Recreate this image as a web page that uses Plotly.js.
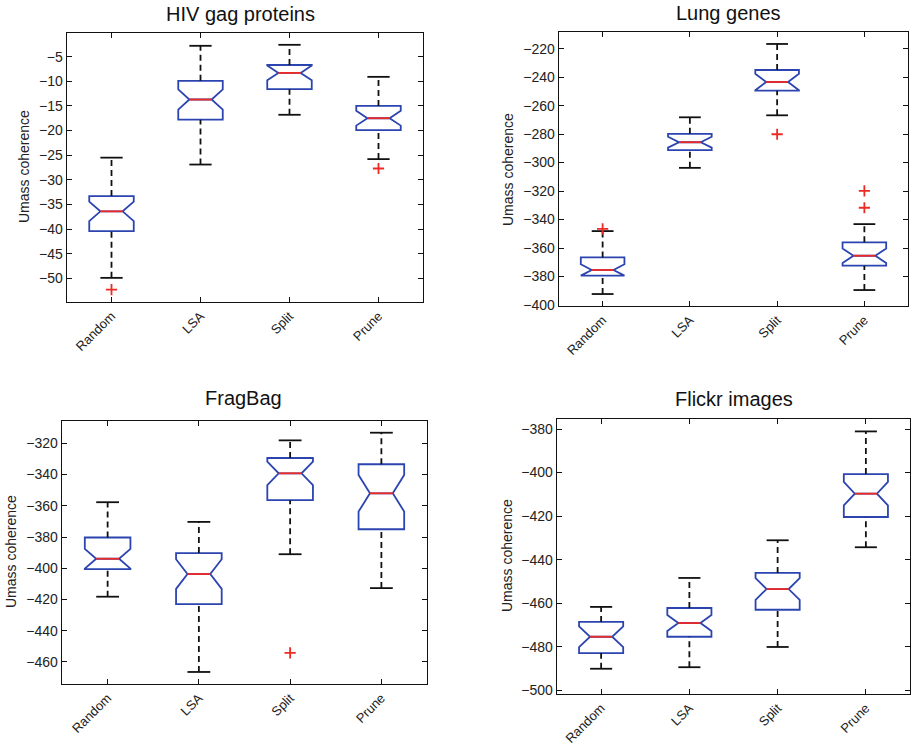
<!DOCTYPE html>
<html>
<head>
<meta charset="utf-8">
<script src="https://cdn.plot.ly/plotly-3.0.1.min.js"></script>
<style>html,body{margin:0;padding:0;background:#fff;}#chart{width:912px;height:746px;}</style>
</head>
<body>
<div id="chart"></div>
<script>
// ---------- data ----------
const categories = ['Random', 'LSA', 'Split', 'Prune'];
const panelTitles = ['HIV gag proteins', 'Lung genes', 'FragBag', 'Flickr images'];
const yAxisLabel = 'Umass coherence';

// HIV gag proteins
const hivQ1     = [-40.4, -17.8, -11.6, -19.9];
const hivMedian = [-36.4, -13.7,  -8.3, -17.5];
const hivQ3     = [-33.3,  -9.9,  -6.7, -15.0];
const hivLower  = [-49.9, -26.9, -16.8, -25.8];
const hivUpper  = [-25.5,  -2.8,  -2.6,  -9.1];
const hivNotch  = [1.97, 2.07, 1.5, 1.5];
const hivOutCat = ['Random', 'Prune'];
const hivOutVal = [-52.3, -27.7];

// Lung genes
const lungQ1     = [-379.4, -291.3, -249.5, -372.4];
const lungMedian = [-375.4, -285.7, -243.4, -365.4];
const lungQ3     = [-366.6, -279.8, -235.0, -356.0];
const lungLower  = [-392.3, -303.7, -266.8, -389.5];
const lungUpper  = [-348.1, -268.2, -216.7, -343.2];
const lungNotch  = [4.0, 3.8, 5.8, 5.1];
const lungOutCat = ['Random', 'Split', 'Prune', 'Prune'];
const lungOutVal = [-346.5, -280.1, -319.8, -331.7];

// FragBag
const fragQ1     = [-400.5, -422.9, -356.4, -375.0];
const fragMedian = [-393.9, -403.7, -339.2, -352.0];
const fragQ3     = [-380.3, -390.3, -329.4, -333.4];
const fragLower  = [-418.2, -466.4, -391.0, -412.7];
const fragUpper  = [-357.7, -370.3, -318.1, -313.2];
const fragNotch  = [6.3, 9.5, 7.5, 11.7];
const fragOutCat = ['Split'];
const fragOutVal = [-454.2];

// Flickr images
const flickrQ1     = [-482.9, -475.4, -463.0, -420.4];
const flickrMedian = [-475.4, -469.1, -453.5, -409.7];
const flickrQ3     = [-468.6, -462.2, -446.1, -400.7];
const flickrLower  = [-490.1, -489.4, -480.1, -434.3];
const flickrUpper  = [-461.7, -448.4, -431.1, -381.1];
const flickrNotch  = [4.8, 3.7, 5.0, 5.4];
const flickrOutCat = [];
const flickrOutVal = [];

// ---------- styling / layout ----------
const BLUE = '#2b44b0';
const RED = '#ee2a24';
const BLACK = '#111';
const FONT = 'Liberation Sans, Arial, sans-serif';
const W = 912, H = 746;

const panels = [
  {q1: hivQ1, med: hivMedian, q3: hivQ3, lo: hivLower, hi: hivUpper, notch: hivNotch, oc: hivOutCat, ov: hivOutVal,
   box: [67, 423, 33, 302], yr: [-54.8, -0.2], dtick: 5, title: [240, 14], ytitle: [24, 167]},
  {q1: lungQ1, med: lungMedian, q3: lungQ3, lo: lungLower, hi: lungUpper, notch: lungNotch, oc: lungOutCat, ov: lungOutVal,
   box: [559, 908, 32, 306], yr: [-400.7, -208.3], dtick: 20, title: [728, 13], ytitle: [508, 169]},
  {q1: fragQ1, med: fragMedian, q3: fragQ3, lo: fragLower, hi: fragUpper, notch: fragNotch, oc: fragOutCat, ov: fragOutVal,
   box: [62, 427, 421, 684], yr: [-474.1, -305.7], dtick: 20, title: [243, 398], ytitle: [11, 552]},
  {q1: flickrQ1, med: flickrMedian, q3: flickrQ3, lo: flickrLower, hi: flickrUpper, notch: flickrNotch, oc: flickrOutCat, ov: flickrOutVal,
   box: [557, 910, 419, 694], yr: [-501.7, -375.4], dtick: 20, title: [734, 399], ytitle: [507, 556]}
];

const traces = [];
const layout = {
  width: W, height: H, showlegend: false,
  margin: {l: 0, r: 0, t: 0, b: 0},
  paper_bgcolor: '#fff', plot_bgcolor: '#fff',
  font: {family: FONT, size: 14, color: '#222'},
  annotations: []
};

const half = 0.125; // half-width of caps / median (data units)
panels.forEach((p, k) => {
  const sfx = k === 0 ? '' : String(k + 1);
  const xa = 'x' + sfx, ya = 'y' + sfx;
  const pos = categories.map((c, i) => i + 1);

  traces.push({
    type: 'box', x: pos, q1: p.q1, median: p.med, q3: p.q3,
    lowerfence: p.q1, upperfence: p.q3, notchspan: p.notch,
    notched: true, notchwidth: 0.25, width: 0.5, whiskerwidth: 0,
    boxpoints: false, line: {color: BLUE, width: 1.8},
    fillcolor: 'rgba(0,0,0,0)', xaxis: xa, yaxis: ya, hoverinfo: 'skip'
  });

  const wx = [], wy = [], cx = [], cy = [], mx = [], my = [];
  pos.forEach((x, i) => {
    wx.push(x, x, null, x, x, null);
    wy.push(p.q3[i], p.hi[i], null, p.lo[i], p.q1[i], null);
    cx.push(x - half, x + half, null, x - half, x + half, null);
    cy.push(p.hi[i], p.hi[i], null, p.lo[i], p.lo[i], null);
    mx.push(x - half, x + half, null);
    my.push(p.med[i], p.med[i], null);
  });
  traces.push({type: 'scatter', mode: 'lines', x: wx, y: wy, xaxis: xa, yaxis: ya,
    line: {color: BLACK, width: 1.8, dash: '6px,4px'}, hoverinfo: 'skip'});
  traces.push({type: 'scatter', mode: 'lines', x: cx, y: cy, xaxis: xa, yaxis: ya,
    line: {color: BLACK, width: 1.8}, hoverinfo: 'skip'});
  traces.push({type: 'scatter', mode: 'lines', x: mx, y: my, xaxis: xa, yaxis: ya,
    line: {color: RED, width: 1.8}, hoverinfo: 'skip'});
  traces.push({type: 'scatter', mode: 'markers',
    x: p.oc.map(c => categories.indexOf(c) + 1), y: p.ov, xaxis: xa, yaxis: ya,
    marker: {symbol: 'cross-thin-open', size: 8, color: RED, line: {color: RED, width: 1.8}},
    hoverinfo: 'skip'});

  const [x0, x1, y0, y1] = p.box;
  layout['xaxis' + sfx] = {
    domain: [x0 / W, x1 / W], anchor: ya, range: [0.5, 4.5],
    tickvals: pos, ticktext: categories, tickangle: -45,
    ticks: 'inside', ticklen: 5, tickcolor: BLACK, mirror: 'ticks',
    showline: true, linecolor: BLACK, linewidth: 1.4,
    showgrid: false, zeroline: false, tickfont: {size: 13, color: '#222'}
  };
  layout['yaxis' + sfx] = {
    domain: [1 - y1 / H, 1 - y0 / H], anchor: xa, range: p.yr,
    dtick: p.dtick, tick0: 0,
    ticks: 'inside', ticklen: 5, tickcolor: BLACK, mirror: 'ticks',
    showline: true, linecolor: BLACK, linewidth: 1.4,
    showgrid: false, zeroline: false, tickfont: {size: 14, color: '#222'}
  };
  layout.annotations.push({
    text: panelTitles[k], xref: 'paper', yref: 'paper',
    x: p.title[0] / W, y: 1 - p.title[1] / H, xanchor: 'center', yanchor: 'middle',
    showarrow: false, font: {size: 20, color: '#111'}
  });
  layout.annotations.push({
    text: yAxisLabel, xref: 'paper', yref: 'paper', textangle: -90,
    x: p.ytitle[0] / W, y: 1 - p.ytitle[1] / H, xanchor: 'center', yanchor: 'middle',
    showarrow: false, font: {size: 14, color: '#222'}
  });
});

Plotly.newPlot('chart', traces, layout, {staticPlot: true, displayModeBar: false});
</script>
</body>
</html>
